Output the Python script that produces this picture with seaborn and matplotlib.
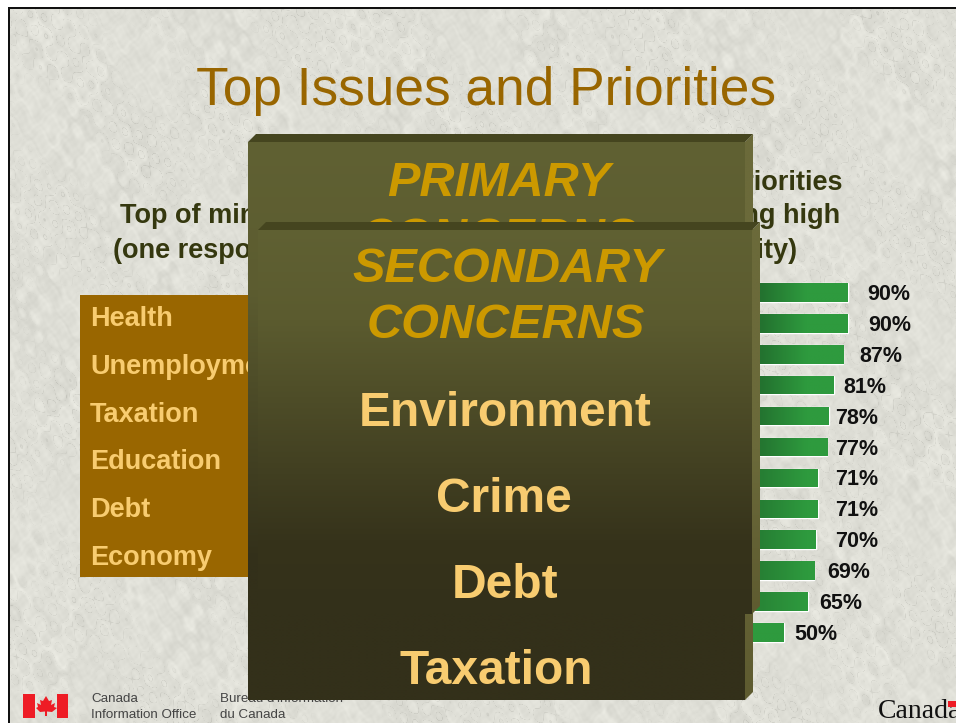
import numpy as np
import pandas as pd
import matplotlib
matplotlib.use("Agg")
import matplotlib.pyplot as plt
from matplotlib.colors import to_rgb
from matplotlib.patches import Polygon, Rectangle
import seaborn as sns

# ---------- data ----------
chart_title = "Top Issues and Priorities"
priority_issues = ["Issue 1", "Issue 2", "Issue 3", "Issue 4", "Issue 5", "Issue 6",
                   "Issue 7", "Issue 8", "Issue 9", "Issue 10", "Issue 11", "Issue 12"]
priority_values = [90, 90, 87, 81, 78, 77, 71, 71, 70, 69, 65, 50]
top_of_mind = ["Health", "Unemployment", "Taxation", "Education", "Debt", "Economy"]
secondary_list = ["Environment", "Crime", "Debt", "Taxation"]
left_head = ["Top of mind", "(one response)"]
right_head = ["Priorities", "rating high", "(% priority)"]

# ---------- styles ----------
W, H = 956, 723
SANS = "Liberation Sans"
BROWN = "#996600"
CREAM = "#f8cc70"
GOLD = "#cc9900"
HEAD = "#35380f"
label_pad_px = [19, 20, 16, 10, 6, 8, 18, 18, 19, 13, 11, 10]

sns.set_theme(style="white")
plt.rcParams["font.family"] = [SANS, "DejaVu Sans"]

fig = plt.figure(figsize=(W / 100, H / 100), dpi=100, facecolor="white")


def px_axes(z):
    a = fig.add_axes([0, 0, 1, 1], zorder=z)
    a.set_xlim(0, W)
    a.set_ylim(H, 0)
    a.axis("off")
    a.patch.set_alpha(0)
    return a


base = px_axes(0)
top = px_axes(2)

# ---------- marble background (deterministic sines, decoration only) ----------
yy, xx = np.mgrid[0:H, 0:W].astype(float)
warp = (np.sin(xx / 23 + yy / 41) + np.sin(xx / 11 - yy / 19 + 1.3)
        + 0.9 * np.sin(xx / 5.3 + yy / 7.1 + 0.4) + 0.7 * np.sin(-xx / 3.1 + yy / 4.3 + 2.1))
tex = np.zeros_like(xx)
for k, (fx, fy, amp) in enumerate([(0.021, 0.013, 2.5), (-0.017, 0.033, 2.5), (0.083, 0.061, 1.6),
                                   (-0.137, 0.097, 1.4), (0.211, -0.173, 1.2), (0.37, 0.29, 1.2),
                                   (-0.53, 0.47, 1.2), (0.71, 0.83, 1.2), (-0.97, 0.61, 1.0)]):
    tex += amp * np.sin(fx * xx + fy * yy + 1.4 * warp + k * 1.1)
patch_mask = np.clip(0.5 + 0.6 * np.sin(xx / 47 + 0.8) * np.sin(yy / 31 + 0.3)
                     + 0.4 * np.sin(xx / 19 - yy / 27), 0, 1)
veins = np.exp(-(np.sin(0.05 * xx + 0.04 * yy + 2.0 * warp) / 0.12) ** 2) * patch_mask
shade = 223 + tex - 17 * veins
rgb = np.dstack([shade, shade, shade - 8]) / 255
base.imshow(np.clip(rgb, 0, 1), extent=(0, W, H, 0), aspect="auto", interpolation="bilinear", zorder=0)
base.add_patch(Rectangle((0, 0), W, 7, fc="white", ec="none", zorder=1))
base.add_patch(Rectangle((0, 0), 8, H, fc="white", ec="none", zorder=1))
base.add_patch(Rectangle((8, 7), W, 2, fc="#111111", ec="none", zorder=2))
base.add_patch(Rectangle((8, 7), 2, H, fc="#111111", ec="none", zorder=2))
base.set_xlim(0, W)
base.set_ylim(H, 0)

# ---------- title and headings ----------
base.text(486.5, 91, chart_title, color=BROWN, fontsize=38.3, ha="center", va="center", zorder=3)
for t, x, y in zip(left_head, [120, 113], [216, 251]):
    base.text(x, y, t, color=HEAD, fontsize=19.5, fontweight="bold", ha="left", va="center", zorder=3)
for t, x, y in zip(right_head, [843, 840, 797], [183, 216, 251]):
    base.text(x, y, t, color=HEAD, fontsize=19.5, fontweight="bold", ha="right", va="center", zorder=3)

# ---------- left list ----------
base.add_patch(Rectangle((80, 295), 175, 282, fc=BROWN, ec="none", zorder=3))
for name, y in zip(top_of_mind, np.linspace(319, 558, len(top_of_mind))):
    base.text(90, y, name, color=CREAM, fontsize=19.5, fontweight="bold", ha="left", va="center", zorder=4)

# ---------- bar chart through seaborn ----------
row0, step = 292.5, 30.9
n = len(priority_values)
ax_top = row0 - step / 2
ax_bottom = row0 + step * (n - 0.5)
ax_left, ax_w = 704, 160
bar_ax = fig.add_axes([ax_left / W, 1 - ax_bottom / H, ax_w / W, (ax_bottom - ax_top) / H], zorder=1)
df = pd.DataFrame({"issue": priority_issues, "pct": priority_values})
sns.barplot(data=df, x="pct", y="issue", orient="h", color="#2e9a3e", saturation=1, width=0.6, ax=bar_ax)
bar_ax.set_xlim(0, 100)
bar_ax.set_ylim(n - 0.5, -0.5)
bar_ax.axis("off")
bar_ax.patch.set_alpha(0)
# the bars fade from a darker green at the panel edge; longer bars fade more
bright, dark = np.array(to_rgb("#2e9a3e")), np.array(to_rgb("#23722f"))
ramp_x = np.linspace(0, 100, 200)
for p, v in zip(list(bar_ax.patches), priority_values):
    depth = np.clip((v - 50) / 30, 0, 1) * (1 - np.clip((ramp_x - 36) / 28, 0, 1))
    img = (bright[None, :] * (1 - depth[:, None]) + dark[None, :] * depth[:, None])[None, :, :]
    im = bar_ax.imshow(img, extent=(0, 100, p.get_y() + p.get_height(), p.get_y()),
                       aspect="auto", zorder=3, interpolation="bilinear")
    im.set_clip_path(p)
bar_ax.set_xlim(0, 100)
bar_ax.set_ylim(n - 0.5, -0.5)
for i, (v, pad) in enumerate(zip(priority_values, label_pad_px)):
    bar_ax.annotate(f"{v}%", xy=(v, i), xytext=(pad * 0.72, -1.5), textcoords="offset points",
                    ha="left", va="center", fontsize=15.5, fontweight="bold", color="#111111",
                    annotation_clip=False, zorder=5)


# ---------- overlay panels ----------
def gradient_poly(ax, pts, stops, z):
    y0, y1 = min(p[1] for p in pts), max(p[1] for p in pts)
    ys = np.linspace(y0, y1, 256)
    cols = np.array([to_rgb(c) for _, c in stops])
    pos = [s for s, _ in stops]
    img = np.stack([np.interp(ys, pos, cols[:, j]) for j in range(3)], axis=1)[:, None, :]
    xs = [p[0] for p in pts]
    im = ax.imshow(img, extent=(min(xs), max(xs), y1, y0), aspect="auto", zorder=z, interpolation="bilinear")
    poly = Polygon(pts, closed=True, fc="none", ec="none", zorder=z, transform=ax.transData)
    ax.add_patch(poly)
    im.set_clip_path(poly)


def panel(ax, x0, x1, y0, y1, stops, side_stops, z, bevel=8):
    gradient_poly(ax, [(x1 - bevel, y0 + bevel), (x1, y0), (x1, y1 - bevel), (x1 - bevel, y1)], side_stops, z)
    ax.add_patch(Polygon([(x0, y0 + bevel), (x0 + bevel, y0), (x1, y0), (x1 - bevel, y0 + bevel)],
                         closed=True, fc="#45451f", ec="none", zorder=z + 0.1))
    gradient_poly(ax, [(x0, y0 + bevel), (x1 - bevel, y0 + bevel), (x1 - bevel, y1), (x0, y1)], stops, z + 0.2)


panel(top, 248, 753, 134, 700,
      [(134, "#606133"), (290, "#5c5c30"), (560, "#33301a"), (700, "#33301a")],
      [(134, "#6b6a3a"), (450, "#6b6a3a"), (700, "#5e5b30")], 1)
top.text(499, 183, "PRIMARY", color=GOLD, fontsize=35, fontweight="bold", fontstyle="italic",
         ha="center", va="center", zorder=2)
top.text(499, 239, "CONCERNS", color=GOLD, fontsize=35, fontweight="bold", fontstyle="italic",
         ha="center", va="center", zorder=2)
panel(top, 258, 760, 222, 614,
      [(222, "#606133"), (320, "#5b5b2f"), (540, "#36331b"), (614, "#33301a")],
      [(222, "#6b6a3a"), (450, "#6b6a3a"), (614, "#5e5b30")], 3)
top.text(507, 270, "SECONDARY", color=GOLD, fontsize=35, fontweight="bold", fontstyle="italic",
         ha="center", va="center", zorder=5)
top.text(506, 326, "CONCERNS", color=GOLD, fontsize=35, fontweight="bold", fontstyle="italic",
         ha="center", va="center", zorder=5)
for t, x, y in zip(secondary_list, [505, 504, 505, 496], [414, 499, 585, 671]):
    top.text(x, y, t, color=CREAM, fontsize=34.5, fontweight="bold", ha="center", va="center", zorder=5)
top.set_xlim(0, W)
top.set_ylim(H, 0)

# ---------- footer ----------
RED = "#ee1c25"
base.add_patch(Rectangle((23, 694), 12, 24, fc=RED, ec="none", zorder=3))
base.add_patch(Rectangle((57, 694), 11, 24, fc=RED, ec="none", zorder=3))
leaf = [(46, 696), (49, 701), (52, 700), (51, 705), (55, 703), (54, 707), (57, 708), (52, 712), (47, 711.5),
        (47, 716), (45, 716), (45, 711.5), (40, 712), (36, 708), (38, 707), (37, 703), (41, 705), (40, 700), (43, 701)]
base.add_patch(Polygon(leaf, closed=True, fc=RED, ec="none", zorder=3))
for t, x, y in [("Canada", 91, 699), ("Information Office", 91, 715),
                ("Bureau d'information", 220, 699), ("du Canada", 220, 715)]:
    base.text(x, y, t, color="#444444", fontsize=9.6, ha="left", va="center", zorder=3)
base.text(878, 712, "Canada", color="#111111", fontsize=20, family="Liberation Serif",
          ha="left", va="center", zorder=3)
base.add_patch(Rectangle((948, 701), 8, 6, fc=RED, ec="none", zorder=4))

fig.savefig("out.png", dpi=100, facecolor="white")
